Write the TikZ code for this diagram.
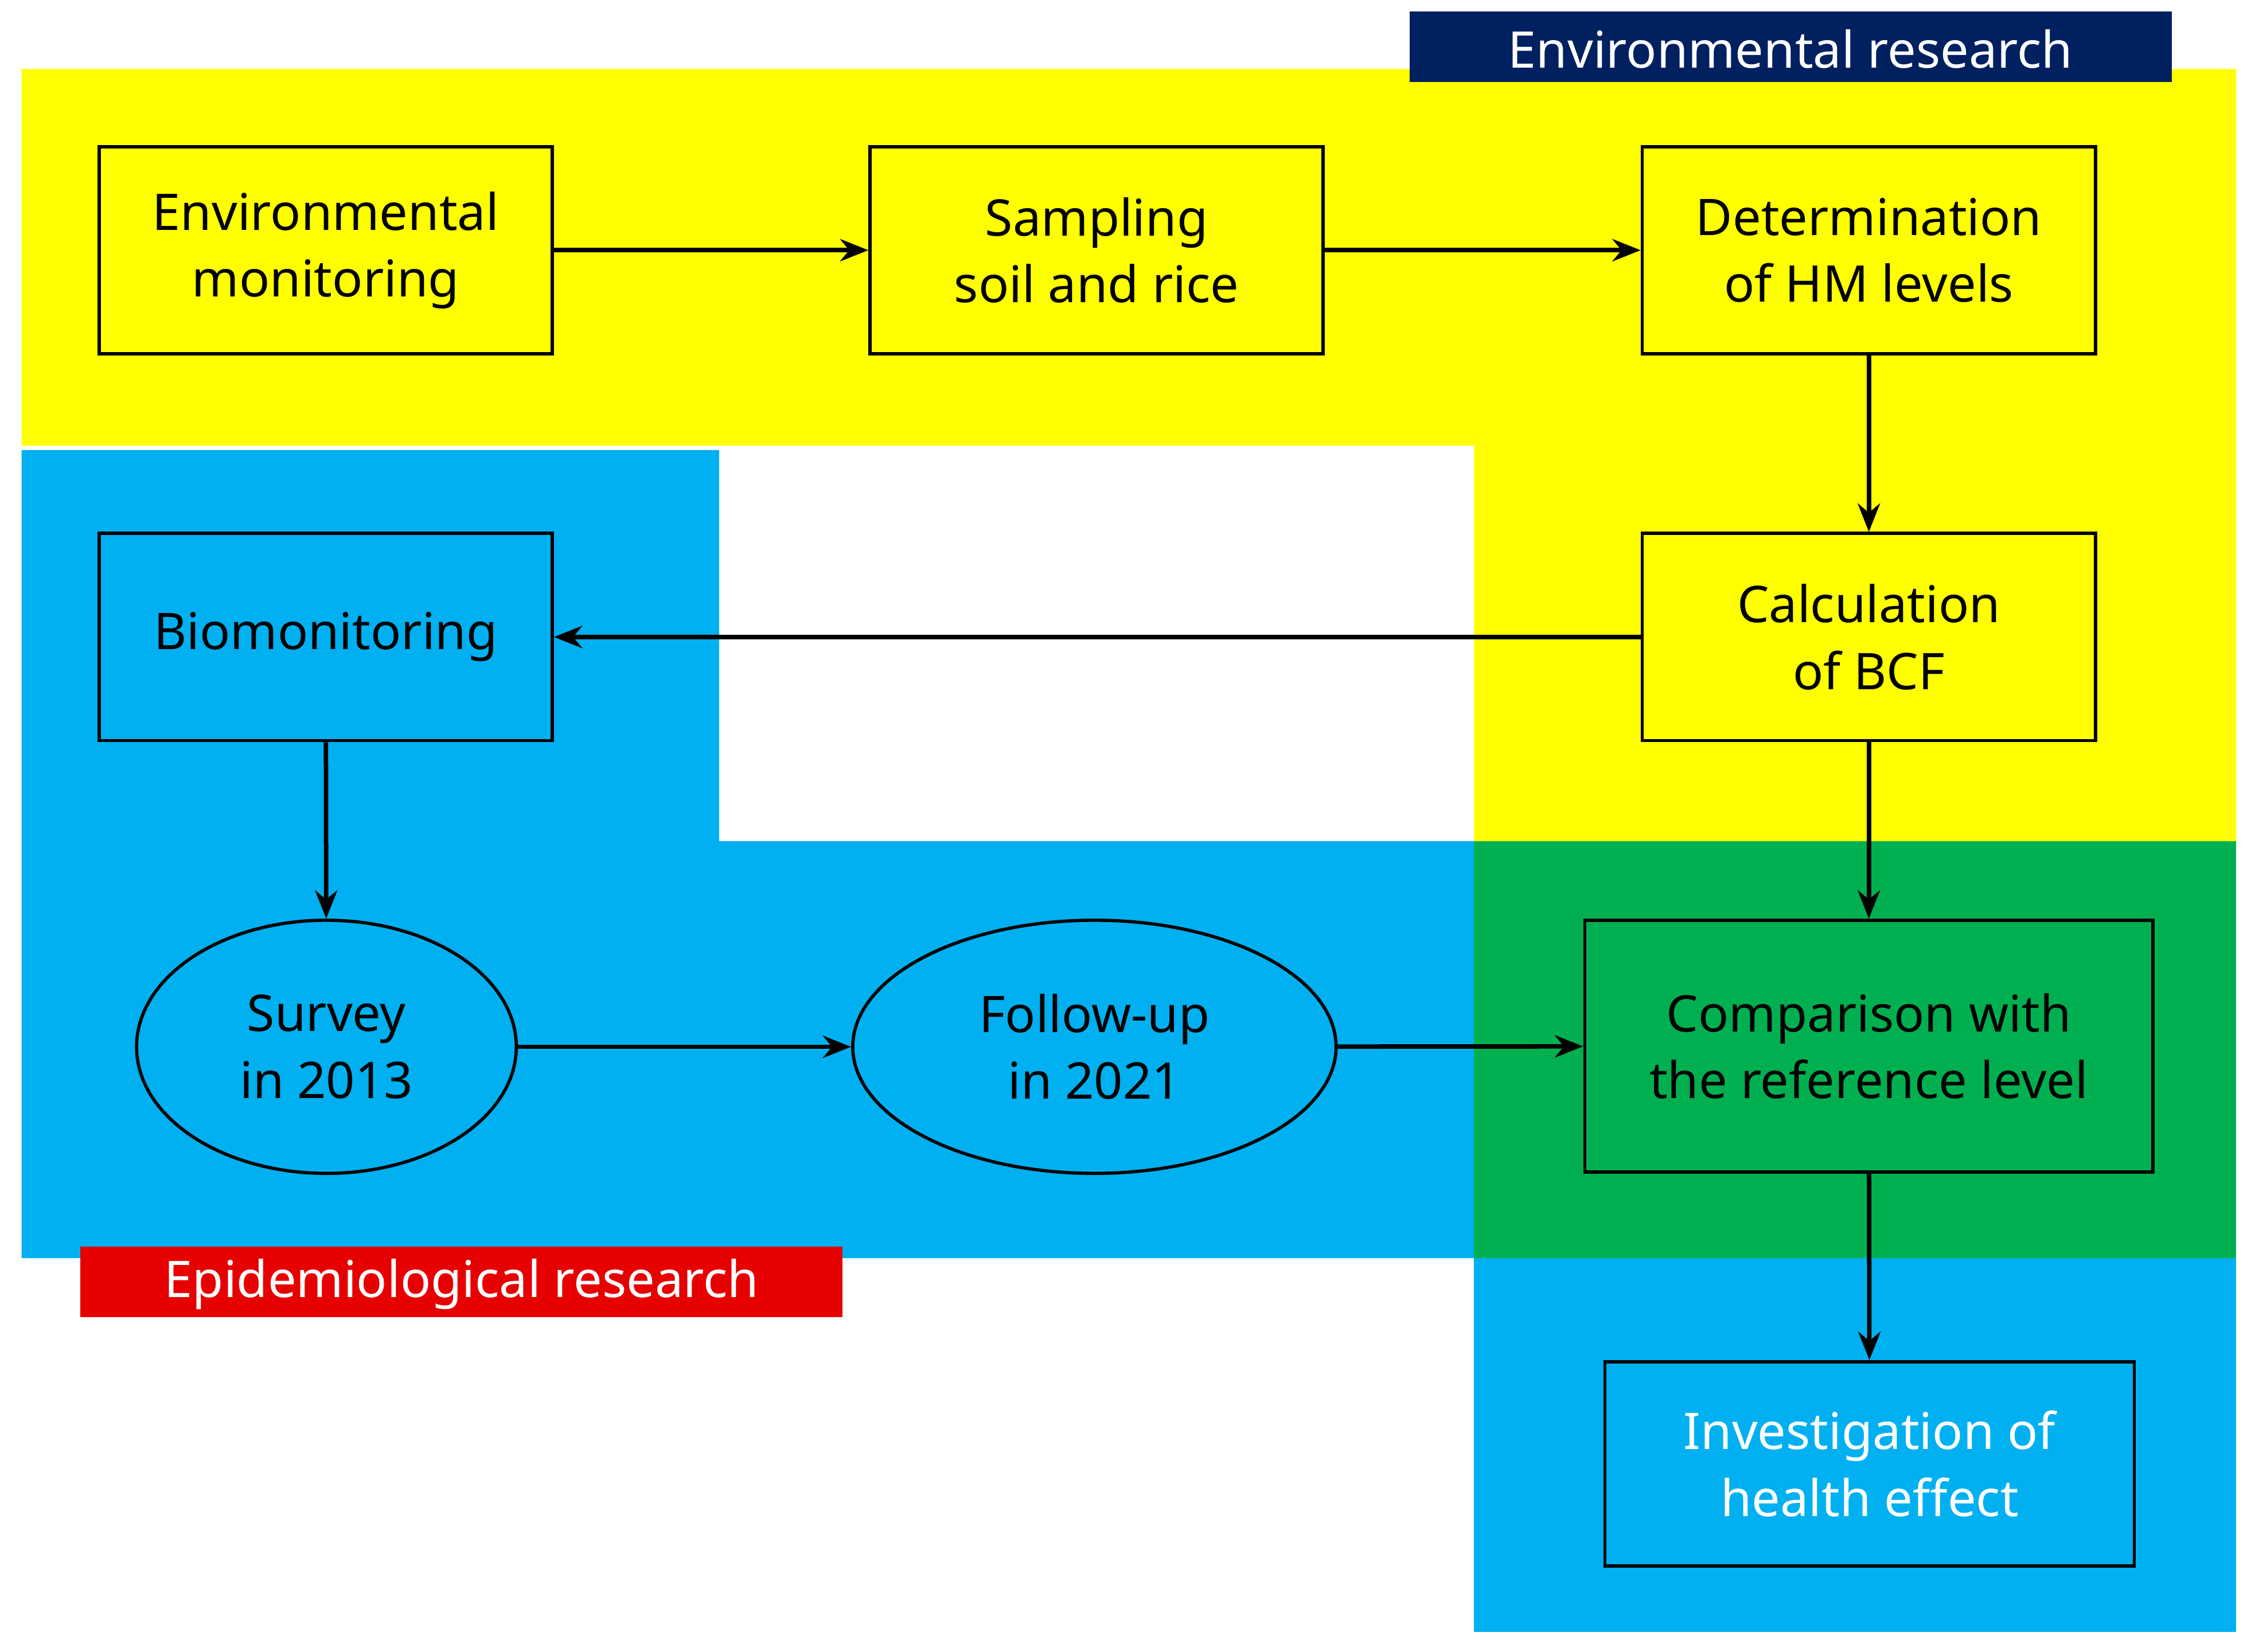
\documentclass[tikz,border=0pt]{standalone}
\usepackage{fontspec}
\setmainfont{Noto Sans}
\usetikzlibrary{shapes.geometric,arrows.meta}
\definecolor{yel}{RGB}{255,255,0}
\definecolor{cy}{RGB}{0,176,240}
\definecolor{gr}{RGB}{0,176,80}
\definecolor{navy}{RGB}{0,32,96}
\definecolor{rd}{RGB}{230,0,0}
\tikzset{
 box/.style={draw=black,line width=1.6pt,rectangle,inner sep=0,align=center,font=\fontsize{25}{33}\selectfont},
 ell/.style={draw=black,line width=1.6pt,ellipse,inner sep=0,align=center,font=\fontsize{25}{33}\selectfont},
 arr/.style={line width=2.2pt,-{Stealth[length=14pt,width=11pt]}},
 tag/.style={text=white,inner sep=0,font=\fontsize{25}{30}\selectfont}
}
\begin{document}
\begin{tikzpicture}[x=0.025cm,y=-0.025cm]
\useasboundingbox (0,0) rectangle (1568,1148.5);
\fill[yel] (15,48)--(1555,48)--(1555,585)--(1025,585)--(1025,310)--(15,310)--cycle;
\fill[cy] (15,313)--(500,313)--(500,585)--(1025,585)--(1025,875)--(15,875)--cycle;
\fill[gr] (1025,585) rectangle (1555,875);
\fill[cy] (1025,875) rectangle (1555,1135);
\fill[navy] (980,8) rectangle (1510,57);
\node[tag] (envt) at (1245,34) {Environmental research};
\fill[rd] (56,867) rectangle (586,916);
\node[tag] (epit) at (321,893) {Epidemiological research};
\node[box,minimum width=7.875cm,minimum height=3.6cm] (A) at (226.5,174) {Environmental\\monitoring};
\node[box,minimum width=7.875cm,minimum height=3.6cm] (B) at (762.5,174) {Sampling\\soil and rice};
\node[box,minimum width=7.875cm,minimum height=3.6cm] (C) at (1299.5,174) {Determination\\of HM levels};
\node[box,minimum width=7.875cm,minimum height=3.6cm] (D) at (1299.5,443) {Calculation\\of BCF};
\node[box,minimum width=7.875cm,minimum height=3.6cm] (E) at (226.5,443) {Biomonitoring};
\node[ell,minimum width=6.6cm,minimum height=4.4cm] (F) at (227,728) {Survey\\in 2013};
\node[ell,minimum width=8.4cm,minimum height=4.4cm] (G) at (761,728) {Follow-up\\in 2021};
\node[box,minimum width=9.875cm,minimum height=4.375cm] (H) at (1299.5,727.5) {Comparison with\\the reference level};
\node[box,minimum width=9.2cm,minimum height=3.55cm,text=white,font=\fontsize{25}{33}\selectfont\bfseries] (I) at (1300,1018) {Investigation of\\health effect};
\draw[arr] (A)--(B);
\draw[arr] (B)--(C);
\draw[arr] (C)--(D);
\draw[arr] (D)--(E);
\draw[arr] (E)--(F);
\draw[arr] (F)--(G);
\draw[arr] (G)--(H);
\draw[arr] (D)--(H);
\draw[arr] (H)--(I);
\end{tikzpicture}
\end{document}
